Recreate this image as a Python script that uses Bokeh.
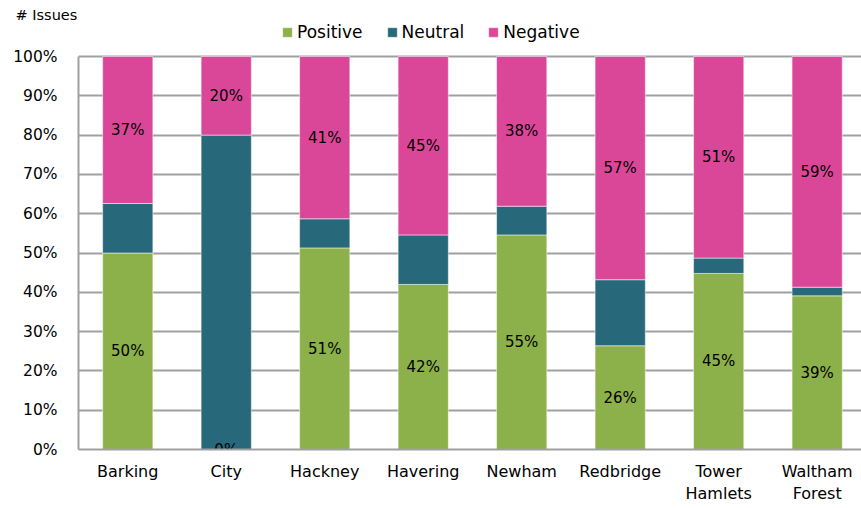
from bokeh.plotting import figure
from bokeh.models import ColumnDataSource, Legend, LegendItem, FixedTicker, Range1d, NumeralTickFormatter
from bokeh.core.properties import value
from bokeh.embed import file_html
from bokeh.resources import INLINE

boroughs = ["Barking", "City", "Hackney", "Havering", "Newham", "Redbridge", "Tower\nHamlets", "Waltham\nForest"]
positive = [50.0, 0.0, 51.3, 42.0, 54.6, 26.4, 44.8, 39.1]
neutral = [12.6, 80.0, 7.4, 12.6, 7.3, 16.8, 3.9, 2.2]
negative = [37.4, 20.0, 41.3, 45.4, 38.1, 56.8, 51.3, 58.7]
y_ticks = [0, 10, 20, 30, 40, 50, 60, 70, 80, 90, 100]

colors = {"Positive": "#8cb04a", "Neutral": "#27687a", "Negative": "#db4798"}
FONT = "DejaVu Sans"

xs = list(range(len(boroughs)))
pos_top = positive
neu_top = [p + n for p, n in zip(positive, neutral)]
neg_top = [a + g for a, g in zip(neu_top, negative)]

src = ColumnDataSource(dict(
    x=xs, pos=positive, neu=neutral, neg=negative,
    pos_top=pos_top, neu_top=neu_top, neg_top=neg_top,
    zero=[0] * len(xs),
    pos_mid=[p / 2 for p in positive],
    neg_mid=[(a + b) / 2 for a, b in zip(neu_top, neg_top)],
    pos_lbl=[f"{round(v):.0f}%" for v in positive],
    neg_lbl=[f"{round(v):.0f}%" for v in negative],
))

TOP = 22
y_end = 100 * (449 - TOP) / (449 - 56)

p = figure(width=861, height=508, output_backend="svg", toolbar_location=None,
           x_range=Range1d(-0.5, 7.45), y_range=Range1d(0, y_end),
           min_border_left=78, min_border_right=0, min_border_top=TOP, min_border_bottom=59)
p.outline_line_color = None
p.background_fill_color = "white"
p.border_fill_color = "white"

bw = 0.51
r_pos = p.vbar(x="x", bottom="zero", top="pos_top", width=bw, source=src,
               fill_color=colors["Positive"], line_color="white", line_alpha=0.5, line_width=1)
r_neu = p.vbar(x="x", bottom="pos_top", top="neu_top", width=bw, source=src,
               fill_color=colors["Neutral"], line_color="white", line_alpha=0.5, line_width=1)
r_neg = p.vbar(x="x", bottom="neu_top", top="neg_top", width=bw, source=src,
               fill_color=colors["Negative"], line_color="white", line_alpha=0.5, line_width=1)

p.text(x="x", y="pos_mid", text="pos_lbl", source=src, text_align="center",
       text_baseline="middle", text_font=value(FONT), text_font_size="15px", text_color="black")
p.text(x="x", y="neg_mid", text="neg_lbl", source=src, text_align="center",
       text_baseline="middle", text_font=value(FONT), text_font_size="15px", text_color="black")

# axes
p.yaxis.ticker = FixedTicker(ticks=y_ticks)
p.yaxis.bounds = (0, 100)
p.yaxis.formatter = NumeralTickFormatter(format="0")
p.yaxis.major_label_overrides = {t: f"{t}%" for t in y_ticks}
p.yaxis.major_tick_line_color = None
p.yaxis.minor_tick_line_color = None
p.yaxis.axis_line_color = "#a0a0a0"
p.yaxis.axis_line_width = 2
p.yaxis.major_label_text_font = FONT
p.yaxis.major_label_text_font_size = "15.5px"
p.yaxis.major_label_text_color = "black"
p.yaxis.major_label_standoff = 15

p.xaxis.ticker = FixedTicker(ticks=xs)
p.xaxis.major_label_overrides = {i: b for i, b in enumerate(boroughs)}
p.xaxis.major_tick_line_color = None
p.xaxis.minor_tick_line_color = None
p.xaxis.axis_line_color = "#a0a0a0"
p.xaxis.axis_line_width = 2
p.xaxis.major_label_text_font = FONT
p.xaxis.major_label_text_font_size = "16px"
p.xaxis.major_label_text_color = "black"
p.xaxis.major_label_standoff = 6

p.xgrid.grid_line_color = None
p.ygrid.grid_line_color = "#a0a0a0"
p.ygrid.grid_line_width = 2
p.ygrid.level = "underlay"

legend = Legend(items=[
    LegendItem(label="Positive", renderers=[r_pos]),
    LegendItem(label="Neutral", renderers=[r_neu]),
    LegendItem(label="Negative", renderers=[r_neg]),
], orientation="horizontal", location=(203, 407),
    label_text_font=FONT, label_text_font_size="17px", label_text_color="black",
    glyph_width=12, glyph_height=12, label_standoff=4, spacing=23,
    border_line_color=None, background_fill_alpha=0, padding=2, margin=0)
p.add_layout(legend, "center")

p.title.text = "# Issues"
p.title.text_font = FONT
p.title.text_font_size = "14.5px"
p.title.text_font_style = "normal"
p.title.text_color = "black"
p.title.align = "left"
p.title.offset = -63
p.title.standoff = 0

open("out.html", "w").write(file_html(p, INLINE))
